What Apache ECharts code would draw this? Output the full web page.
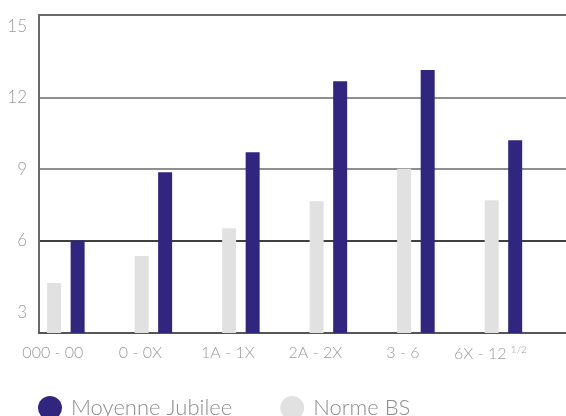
<!DOCTYPE html>
<html>
<head>
<meta charset="utf-8">
<script src="https://cdn.jsdelivr.net/npm/echarts@6/dist/echarts.min.js"></script>
<style>
  html, body { margin: 0; padding: 0; background: #fff; }
  #chart { width: 566px; height: 416px; }
</style>
</head>
<body>
<div id="chart"></div>
<script>
// tailles
const categories = ['000 - 00', '0 - 0X', '1A - 1X', '2A - 2X', '3 - 6', '6X - 12 1/2'];
const normeBS = [4.22, 5.35, 6.52, 7.65, 9.02, 7.69];
const moyenneJubilee = [6.0, 8.87, 9.71, 12.69, 13.16, 10.21];
const yTicks = [3, 6, 9, 12, 15];
const gridTicks = [6, 9, 12];

const DARK = '#30267f';
const LIGHT = '#e1e1e1';
const TXT = '#9a9a9a';
const FONT = 'Lato, "Open Sans", sans-serif';

const chart = echarts.init(document.getElementById('chart'));

const toPoints = (arr) => arr.map((v, i) => [i, v]);

const option = {
  animation: false,
  grid: { left: 39, right: 0, top: 15, bottom: 83 },
  legend: {
    left: 33,
    top: 391,
    icon: 'circle',
    itemWidth: 24,
    itemHeight: 24,
    itemGap: 48,
    data: ['Moyenne Jubilee', 'Norme BS'],
    textStyle: { fontSize: 22, color: '#8c8c8c', fontFamily: FONT, fontWeight: 300, padding: [0, 0, 0, 4] }
  },
  xAxis: [
    {
      type: 'value',
      min: -0.307,
      max: 5.715,
      splitLine: { show: false },
      axisTick: { show: false },
      axisLine: { show: true, onZero: false, lineStyle: { color: '#555', width: 2 } },
      axisLabel: {
        customValues: categories.map((c, i) => i),
        margin: 12,
        color: TXT,
        fontSize: 16,
        fontFamily: FONT,
        fontWeight: 300,
        padding: [0, 26, 0, 0],
        formatter: (v) => categories[v].replace(' 1/2', ' {sup|1/2}'),
        rich: { sup: { fontSize: 10, color: TXT, fontFamily: FONT, padding: [0, 0, 8, 0] } }
      }
    },
    {
      // filet du haut
      type: 'value',
      position: 'top',
      min: 0, max: 1,
      axisLine: { show: true, onZero: false, lineStyle: { color: '#6a6a6a', width: 2 } },
      axisTick: { show: false },
      axisLabel: { show: false },
      splitLine: { show: false }
    }
  ],
  yAxis: {
    type: 'value',
    min: 2.12,
    max: 15.47,
    axisLine: { show: true, onZero: false, lineStyle: { color: '#6a6a6a', width: 2 } },
    axisTick: { show: false, customValues: gridTicks },
    axisLabel: {
      customValues: yTicks,
      margin: 12,
      color: TXT,
      fontSize: 17,
      fontFamily: FONT,
      fontWeight: 300
    },
    splitLine: {
      show: true,
      lineStyle: { color: ['#000', '#6a6a6a', '#6a6a6a'], width: 1.5 }
    }
  },
  series: [
    {
      name: 'Norme BS',
      type: 'bar',
      barWidth: 14,
      barGap: '68%',
      itemStyle: { color: LIGHT },
      data: toPoints(normeBS)
    },
    {
      name: 'Moyenne Jubilee',
      type: 'bar',
      barWidth: 14,
      barGap: '68%',
      itemStyle: { color: DARK },
      data: toPoints(moyenneJubilee)
    }
  ]
};

chart.setOption(option);
</script>
</body>
</html>
